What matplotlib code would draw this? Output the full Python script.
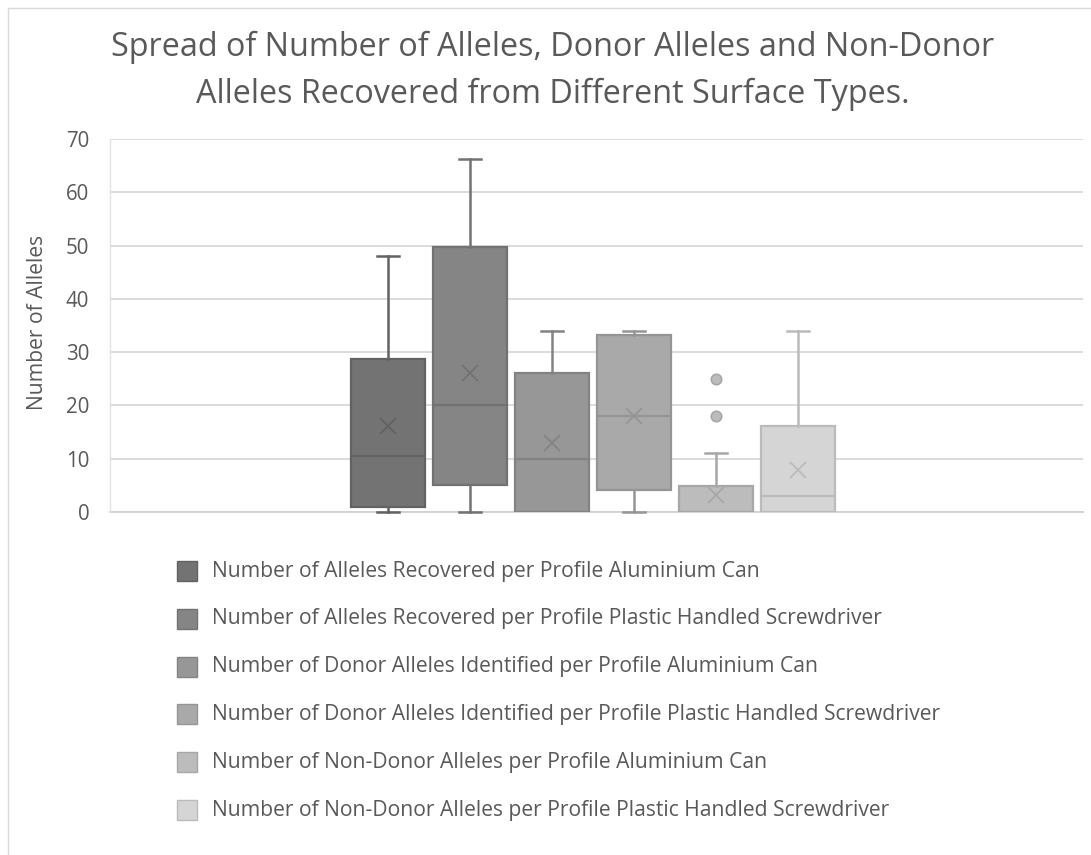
import matplotlib
matplotlib.use("Agg")
import matplotlib.pyplot as plt
from matplotlib.patches import Rectangle

# Summary statistics per series (Excel-style box and whisker)
series_labels = [
    "Number of Alleles Recovered per Profile Aluminium Can",
    "Number of Alleles Recovered per Profile Plastic Handled Screwdriver",
    "Number of Donor Alleles Identified per Profile Aluminium Can",
    "Number of Donor Alleles Identified per Profile Plastic Handled Screwdriver",
    "Number of Non-Donor Alleles per Profile Aluminium Can",
    "Number of Non-Donor Alleles per Profile Plastic Handled Screwdriver",
]
whisker_low = [0, 0, 0, 0, 0, 0]
q1 = [0.9, 5.1, 0, 4.1, 0, 0]
medians = [10.5, 20, 10, 18, 0, 3]
q3 = [28.8, 49.7, 26, 33.2, 4.9, 16.1]
whisker_high = [48, 66.3, 34, 34, 11, 34]
means = [16.1, 26.1, 13, 18, 3.2, 7.9]
outliers = [[], [], [], [], [25, 18], []]

fill_colors = ["#737373", "#858585", "#979797", "#a9a9a9", "#bcbcbc", "#d5d5d5"]
edge_colors = ["#626262", "#727272", "#838383", "#959595", "#a7a7a7", "#bbbbbb"]

y_ticks = [0, 10, 20, 30, 40, 50, 60, 70]

text_color = "#595959"
font = ["Open Sans", "DejaVu Sans"]
plt.rcParams["font.family"] = font

W, H = 1091, 855
fig = plt.figure(figsize=(W / 100, H / 100), dpi=100)

# plot area in pixel coordinates
left_px, right_px, top_px, bottom_px = 110, 1083, 139, 512
ax = fig.add_axes([left_px / W, 1 - bottom_px / H,
                   (right_px - left_px) / W, (bottom_px - top_px) / H])

n = len(series_labels)
positions = list(range(1, n + 1))
stats = []
for i in range(n):
    stats.append(dict(med=medians[i], q1=q1[i], q3=q3[i],
                      whislo=whisker_low[i], whishi=whisker_high[i],
                      mean=means[i], fliers=outliers[i]))

box_w = 74 / 82
bp = ax.bxp(stats, positions=positions, widths=box_w, capwidths=0.26,
            patch_artist=True, showmeans=True, showfliers=True)

for i in range(n):
    bp["boxes"][i].set(facecolor=fill_colors[i], edgecolor=edge_colors[i],
                       linewidth=1.6, zorder=3)
    bp["medians"][i].set(color=edge_colors[i], linewidth=1.6, zorder=4)
    for ln in bp["whiskers"][2 * i:2 * i + 2] + bp["caps"][2 * i:2 * i + 2]:
        ln.set(color=edge_colors[i], linewidth=1.8, zorder=3.5, clip_on=False)
    # no lower whisker/cap when the minimum coincides with the first quartile
    if whisker_low[i] == q1[i]:
        bp["whiskers"][2 * i].set_visible(False)
        bp["caps"][2 * i].set_visible(False)
    bp["means"][i].set(marker="x", markersize=12, markeredgewidth=1.3,
                       markeredgecolor=edge_colors[i], zorder=5)
    bp["fliers"][i].set(marker="o", markersize=7.5, markerfacecolor=fill_colors[i],
                        markeredgecolor=edge_colors[i], markeredgewidth=1.2)

# x-range: 82 px per category slot, centered on the plot area
span = (right_px - left_px) / 82
center = 3.5 + ((left_px + right_px) / 2 - 593) / 82
ax.set_xlim(center - span / 2, center + span / 2)
ax.set_ylim(0, 70)
ax.set_yticks(y_ticks)
ax.set_xticks([])
ax.tick_params(axis="y", length=0, pad=15, labelsize=14.8, labelcolor=text_color)
ax.yaxis.grid(True, color="#d9d9d9", linewidth=1.3)
ax.set_axisbelow(True)
for s in ["top", "right"]:
    ax.spines[s].set_visible(False)
ax.spines["left"].set(color="#e3e3e3", linewidth=1.0)
ax.spines["bottom"].set(color="#d0d0d0", linewidth=1.3, zorder=2)

fig.text(38 / W, 1 - 322 / H, "Number of Alleles", rotation=90, ha="center",
         va="center", fontsize=15.2, color=text_color)

fig.text(553 / W, 1 - 47 / H, "Spread of Number of Alleles, Donor Alleles and Non-Donor",
         ha="center", va="center", fontsize=23.3, color=text_color)
fig.text(553 / W, 1 - 94 / H, "Alleles Recovered from Different Surface Types.",
         ha="center", va="center", fontsize=23.3, color=text_color)

# legend rows
for i in range(n):
    yc = 571 + i * 47.8
    fig.add_artist(Rectangle((177 / W, 1 - (yc + 10) / H), 20 / W, 20 / H,
                             transform=fig.transFigure, facecolor=fill_colors[i],
                             edgecolor=edge_colors[i], linewidth=1.0))
    fig.text(212 / W, 1 - yc / H, series_labels[i], ha="left", va="center",
             fontsize=15.2, color=text_color)

# chart area border
fig.add_artist(Rectangle((8 / W, -0.01), 1.02, 1 - 8 / H + 0.01,
                         transform=fig.transFigure, facecolor="none",
                         edgecolor="#d9d9d9", linewidth=1.0))

fig.savefig("out.png", dpi=100, facecolor="white")
